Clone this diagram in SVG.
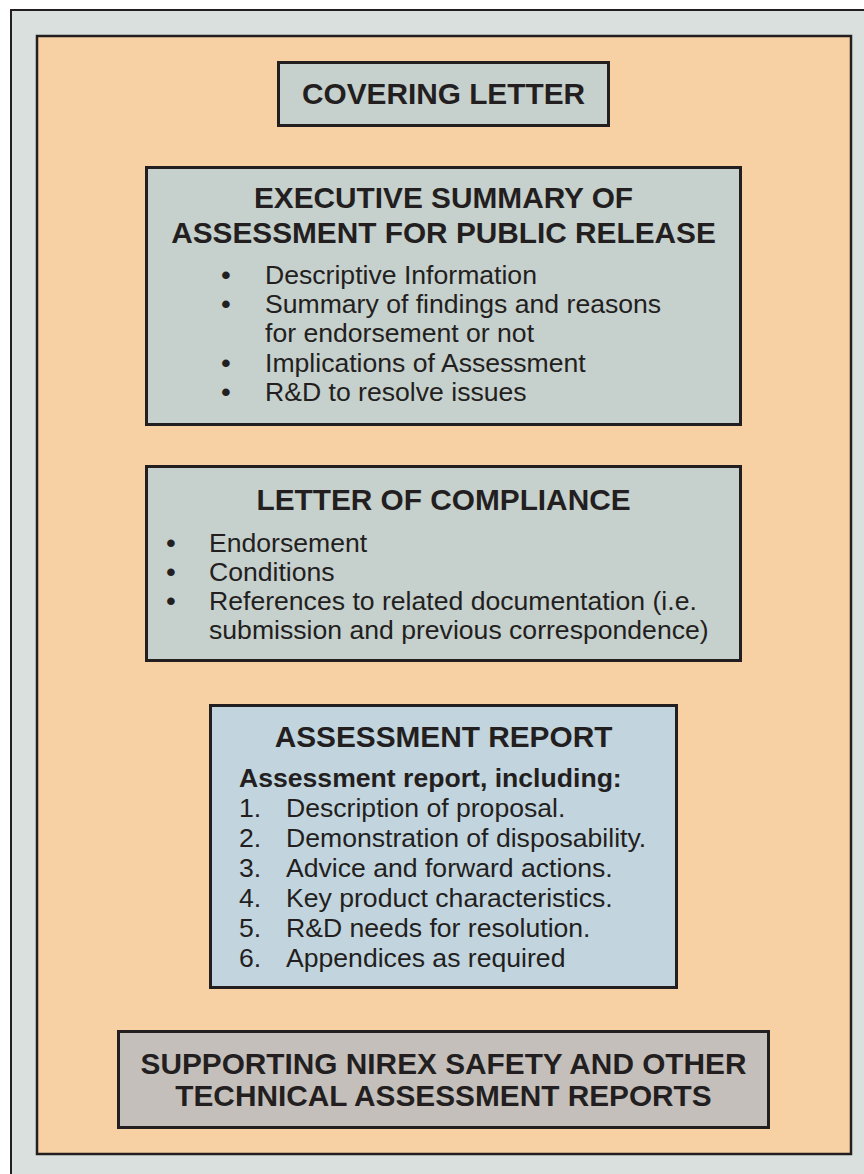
<svg xmlns="http://www.w3.org/2000/svg" width="864" height="1174" viewBox="0 0 864 1174">
<style>
.bg{fill:#DAE0DE;stroke:#231F20;stroke-width:2}
.panel{fill:#F7D0A4;stroke:#231F20;stroke-width:2.5}
.box{fill:#C6D0CD;stroke:#231F20;stroke-width:3}
.blue{fill:#C2D4DE;stroke:#231F20;stroke-width:3}
.taupe{fill:#C5BFBC;stroke:#231F20;stroke-width:3}
text{font-family:"Liberation Sans",Arial,Helvetica,sans-serif;fill:#231F20}
.h{font-size:29.8px;font-weight:bold;text-anchor:middle}
.sub{font-size:26.6px;font-weight:bold}
.t{font-size:26.6px}
.b{font-size:26.6px;text-anchor:middle;font-weight:bold}
</style>
<rect class="bg" x="11" y="10" width="880" height="1190"/>
<rect class="panel" x="37" y="36" width="814" height="1118"/>
<g id="covering-letter">
<rect class="box" x="278.5" y="62.5" width="330" height="63"/>
<text class="h" x="443.5" y="104">COVERING LETTER</text>
</g>
<g id="executive-summary">
<rect class="box" x="146.5" y="167.5" width="594" height="257"/>
<text class="h" x="443.5" y="208">EXECUTIVE SUMMARY OF</text>
<text class="h" x="443.5" y="243">ASSESSMENT FOR PUBLIC RELEASE</text>
<text class="b" x="226" y="284">•</text>
<text class="t" x="265" y="284">Descriptive Information</text>
<text class="b" x="226" y="313">•</text>
<text class="t" x="265" y="313">Summary of findings and reasons</text>
<text class="t" x="265" y="342">for endorsement or not</text>
<text class="b" x="226" y="372">•</text>
<text class="t" x="265" y="372">Implications of Assessment</text>
<text class="b" x="226" y="401">•</text>
<text class="t" x="265" y="401">R&amp;D to resolve issues</text>
</g>
<g id="letter-of-compliance">
<rect class="box" x="146.5" y="466.5" width="594" height="194"/>
<text class="h" x="443.5" y="510">LETTER OF COMPLIANCE</text>
<text class="b" x="171" y="552">•</text>
<text class="t" x="209" y="552">Endorsement</text>
<text class="b" x="171" y="581">•</text>
<text class="t" x="209" y="581">Conditions</text>
<text class="b" x="171" y="610">•</text>
<text class="t" x="209" y="610">References to related documentation (i.e.</text>
<text class="t" x="209" y="639">submission and previous correspondence)</text>
</g>
<g id="assessment-report">
<rect class="blue" x="210.5" y="705.5" width="466" height="282"/>
<text class="h" x="443.5" y="747">ASSESSMENT REPORT</text>
<text class="sub" x="239" y="787">Assessment report, including:</text>
<text class="t" x="239" y="817">1.</text>
<text class="t" x="286" y="817">Description of proposal.</text>
<text class="t" x="239" y="847">2.</text>
<text class="t" x="286" y="847">Demonstration of disposability.</text>
<text class="t" x="239" y="877">3.</text>
<text class="t" x="286" y="877">Advice and forward actions.</text>
<text class="t" x="239" y="907">4.</text>
<text class="t" x="286" y="907">Key product characteristics.</text>
<text class="t" x="239" y="937">5.</text>
<text class="t" x="286" y="937">R&amp;D needs for resolution.</text>
<text class="t" x="239" y="967">6.</text>
<text class="t" x="286" y="967">Appendices as required</text>
</g>
<g id="supporting-reports">
<rect class="taupe" x="118.5" y="1031.5" width="650" height="96"/>
<text class="h" x="443.5" y="1074">SUPPORTING NIREX SAFETY AND OTHER</text>
<text class="h" x="443.5" y="1106">TECHNICAL ASSESSMENT REPORTS</text>
</g>
<g id="connectors"/>
</svg>
